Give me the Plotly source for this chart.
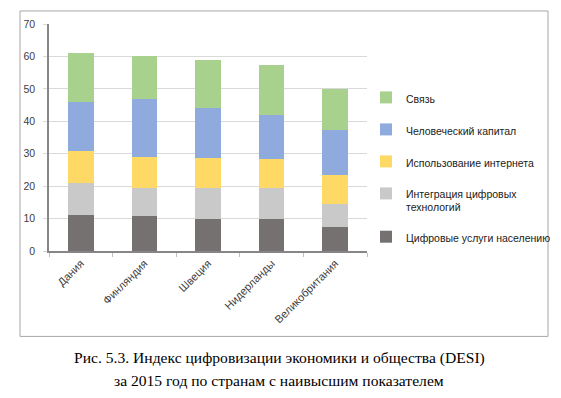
import plotly.graph_objects as go

countries = ["Дания", "Финляндия", "Швеция", "Нидерланды", "Великобритания"]
series_names = [
    "Цифровые услуги населению",
    "Интеграция цифровых<br>технологий",
    "Использование интернета",
    "Человеческий капитал",
    "Связь",
]
digital_services = [11.0, 10.9, 9.8, 10.0, 7.4]
digital_integration = [10.0, 8.6, 9.5, 9.4, 7.2]
internet_use = [9.8, 9.4, 9.5, 8.9, 8.7]
human_capital = [15.2, 18.0, 15.4, 13.6, 14.1]
connectivity = [15.0, 13.3, 14.7, 15.4, 12.5]
y_ticks = [0, 10, 20, 30, 40, 50, 60, 70]
caption_1 = "Рис. 5.3. Индекс цифровизации экономики и общества (DESI)"
caption_2 = "за 2015 год по странам с наивысшим показателем"

values = [digital_services, digital_integration, internet_use, human_capital, connectivity]
colors = ["#767171", "#c9c9c9", "#ffd966", "#8faadc", "#a9d18e"]

fig = go.Figure()
n = len(series_names)
for i, (name, vals, col) in enumerate(zip(series_names, values, colors)):
    fig.add_trace(go.Bar(
        x=countries, y=vals, name=name, marker=dict(color=col, line=dict(width=0)),
        legendgroup=f"g{i}", legendrank=n - i,
    ))

W, H = 561, 398
L, R, T, B = 49, 367, 24, 250.7
pw, ph = R - L, B - T

def px(x):
    return (x - L) / pw

def py(y):
    return (B - y) / ph

fig.update_layout(
    width=W, height=H,
    margin=dict(l=L, r=W - R, t=T, b=H - B, pad=0, autoexpand=False),
    barmode="stack", bargap=0.6,
    plot_bgcolor="white", paper_bgcolor="white",
    font=dict(family="Liberation Sans, Arial, sans-serif", size=10, color="#404040"),
    showlegend=True,
    legend=dict(
        x=px(366), y=py(84), xanchor="left", yanchor="top",
        traceorder="grouped", tracegroupgap=13,
        font=dict(size=10.5, color="#1a1a1a"), valign="top",
        itemwidth=30, bgcolor="rgba(0,0,0,0)",
    ),
    xaxis=dict(
        tickangle=-45, showline=True, linecolor="#868686", linewidth=1.5,
        ticks="outside", tickson="boundaries", ticklen=4, tickcolor="#bfbfbf",
        tickfont=dict(size=11, color="#404040"), showgrid=False, automargin=False,
    ),
    yaxis=dict(
        range=[0, 70], tickvals=y_ticks, showline=True, linecolor="#868686", linewidth=1.5,
        gridcolor="#d9d9d9", gridwidth=1, ticks="outside", ticklen=4, tickcolor="#d9d9d9",
        tickfont=dict(size=10.5, color="#404040"), zeroline=False, automargin=False,
        ticklabelstandoff=6,
    ),
    shapes=[dict(
        type="rect", xref="paper", yref="paper",
        x0=px(20), x1=px(548), y0=py(336), y1=py(11),
        line=dict(color="#a6a6a6", width=1), fillcolor="rgba(0,0,0,0)", layer="below",
    )],
    annotations=[
        dict(text=caption_1, xref="paper", yref="paper", x=px(279), y=py(358),
             showarrow=False, xanchor="center", yanchor="middle",
             font=dict(family="Liberation Serif, Times New Roman, serif", size=15.6, color="#000000")),
        dict(text=caption_2, xref="paper", yref="paper", x=px(279), y=py(380),
             showarrow=False, xanchor="center", yanchor="middle",
             font=dict(family="Liberation Serif, Times New Roman, serif", size=15.6, color="#000000")),
    ],
)

fig.write_html(
    "out.html",
    config={"displayModeBar": False},
    post_script="document.body.style.margin='0';document.body.style.overflow='hidden';",
)
